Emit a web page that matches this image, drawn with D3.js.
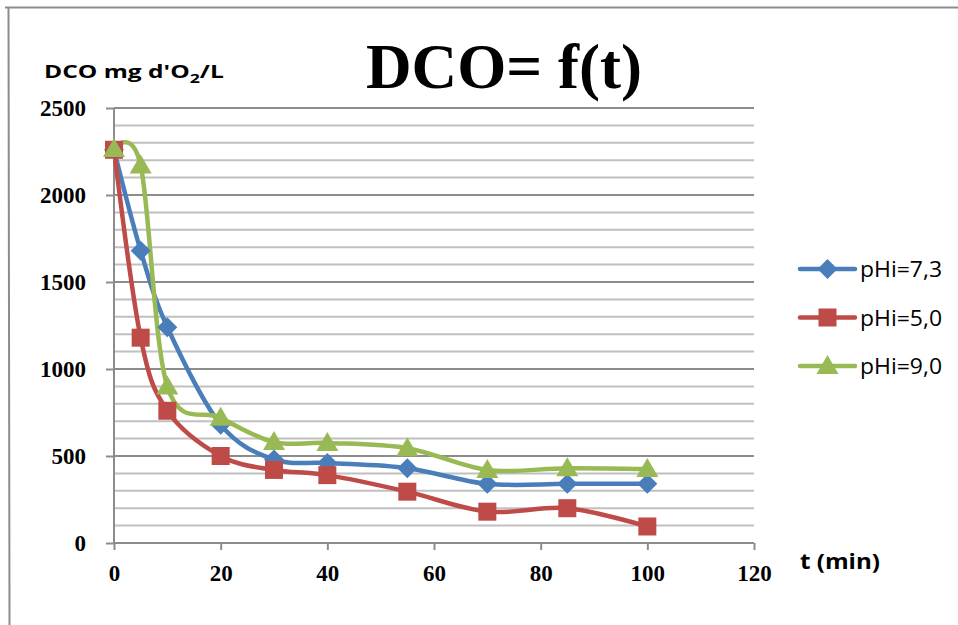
<!DOCTYPE html>
<html>
  <head>
    <meta charset="utf-8">
    <title>DCO = f(t)</title>
    <script src="https://cdn.jsdelivr.net/npm/d3@7"></script>
    <style>
      body { margin: 0; background: #fff; }
    </style>
  </head>
  <body>
    <svg width="958" height="625" id="mainsvg"></svg>
    <script>
      // data
      const times = [0, 5, 10, 20, 30, 40, 55, 70, 85, 100];
      const dco73 = [2260, 1680, 1240, 680, 480, 460, 430, 340, 340, 340];
      const dco50 = [2260, 1180, 760, 500, 420, 390, 295, 180, 200, 95];
      const dco90 = [2265, 2170, 900, 720, 580, 575, 545, 420, 430, 425];
      const seriesNames = ["pHi=7,3", "pHi=5,0", "pHi=9,0"];
      const xTicks = [0, 20, 40, 60, 80, 100, 120];
      const yTicks = [0, 500, 1000, 1500, 2000, 2500];

      const colors = ["#4a7ebb", "#be4b48", "#98b954"];
      const shapes = ["diamond", "square", "triangle"];
      const series = [dco73, dco50, dco90].map((vals, i) => ({
        name: seriesNames[i],
        color: colors[i],
        shape: shapes[i],
        points: times.map((t, j) => ({ t: t, v: vals[j] })),
      }));

      const svg = d3.select("#mainsvg");
      const margin = { top: 108, left: 114 };
      const innerWidth = 640;
      const innerHeight = 435;

      // outer frame of the chart
      svg.append("path")
        .attr("d", "M5,7.5 L958,7.5 M8.5,7.5 L9.5,625")
        .attr("stroke", "#8c8c8c")
        .attr("stroke-width", 2)
        .attr("fill", "none");

      const g = svg.append("g")
        .attr("transform", `translate(${margin.left}, ${margin.top})`);

      const xScale = d3.scaleLinear().domain([0, 120]).range([0, innerWidth]);
      const yScale = d3.scaleLinear().domain([0, 2500]).range([innerHeight, 0]);

      // minor gridlines every 100
      g.append("g")
        .selectAll("line")
        .data(d3.range(100, 2500, 100).filter((d) => d % 500 !== 0))
        .join("line")
        .attr("x1", 0)
        .attr("x2", innerWidth)
        .attr("y1", (d) => yScale(d))
        .attr("y2", (d) => yScale(d))
        .attr("stroke", "#c0c0c0")
        .attr("stroke-width", 2);

      // major gridlines
      g.append("g")
        .selectAll("line")
        .data(yTicks.filter((d) => d > 0))
        .join("line")
        .attr("x1", 0)
        .attr("x2", innerWidth)
        .attr("y1", (d) => yScale(d))
        .attr("y2", (d) => yScale(d))
        .attr("stroke", "#8c8c8c")
        .attr("stroke-width", 2);

      const yAxis = d3.axisLeft(yScale).tickValues(yTicks).tickFormat(d3.format("d"))
        .tickSize(8).tickPadding(20);
      const xAxis = d3.axisBottom(xScale).tickValues(xTicks).tickFormat(d3.format("d"))
        .tickSize(7).tickPadding(15);

      const yAxisGroup = g.append("g").call(yAxis);
      const xAxisGroup = g.append("g")
        .attr("transform", `translate(0, ${innerHeight})`)
        .call(xAxis);

      [yAxisGroup, xAxisGroup].forEach((ax) => {
        ax.select(".domain").attr("stroke", "#8c8c8c").attr("stroke-width", 2);
        ax.selectAll(".tick line").attr("stroke", "#8c8c8c").attr("stroke-width", 2);
        ax.selectAll(".tick text")
          .attr("font-family", "'Liberation Serif', 'Times New Roman', serif")
          .attr("font-weight", "bold")
          .attr("font-size", "23px")
          .attr("fill", "#000");
      });
      yAxisGroup.select(".domain").attr("d", `M0,0 V${innerHeight}`);
      xAxisGroup.select(".domain").attr("d", `M0,0 H${innerWidth}`);

      // smoothed lines like the spreadsheet
      const line = d3.line()
        .x((d) => xScale(d.t))
        .y((d) => yScale(d.v))
        .curve(d3.curveCatmullRom.alpha(0));

      function marker(sel, shape, color) {
        if (shape === "diamond") {
          sel.append("path").attr("d", "M0,-10 L10,0 L0,10 L-10,0 Z").attr("fill", color);
        } else if (shape === "square") {
          sel.append("rect").attr("x", -9).attr("y", -9).attr("width", 18).attr("height", 18).attr("fill", color);
        } else {
          sel.append("path").attr("d", "M0,-11 L11,8 L-11,8 Z").attr("fill", color);
        }
      }

      series.forEach((s) => {
        g.append("path")
          .datum(s.points)
          .attr("d", line)
          .attr("fill", "none")
          .attr("stroke", s.color)
          .attr("stroke-width", 4.5)
          .attr("stroke-linejoin", "round");
      });
      series.forEach((s) => {
        s.points.forEach((p) => {
          const m = g.append("g")
            .attr("transform", `translate(${xScale(p.t)}, ${yScale(p.v)})`);
          marker(m, s.shape, s.color);
        });
      });

      // legend
      const legend = svg.append("g").attr("transform", "translate(800, 269)");
      series.forEach((s, i) => {
        const row = legend.append("g").attr("transform", `translate(0, ${i * 48.5})`);
        row.append("line")
          .attr("x1", 0).attr("x2", 55)
          .attr("stroke", s.color)
          .attr("stroke-width", 4.5)
          .attr("stroke-linecap", "round");
        const m = row.append("g").attr("transform", "translate(27.5, 0)");
        marker(m, s.shape, s.color);
        row.append("text")
          .text(s.name)
          .attr("x", 60)
          .attr("y", 8)
          .attr("font-family", "'Open Sans', sans-serif")
          .attr("font-size", "21px")
          .attr("textLength", 82)
          .attr("lengthAdjust", "spacingAndGlyphs")
          .attr("fill", "#000");
      });

      // titles
      svg.append("text")
        .text("DCO= f(t)")
        .attr("x", 366)
        .attr("y", 88)
        .attr("font-family", "'Liberation Serif', 'Times New Roman', serif")
        .attr("font-weight", "bold")
        .attr("font-size", "63px")
        .attr("textLength", 276)
        .attr("lengthAdjust", "spacingAndGlyphs")
        .attr("fill", "#000");

      const yLabel = svg.append("text")
        .attr("x", 44)
        .attr("y", 78)
        .attr("font-family", "'Open Sans', sans-serif")
        .attr("font-weight", "bold")
        .attr("font-size", "18px")
        .attr("fill", "#000");
      yLabel.append("tspan").text("DCO mg d'O");
      yLabel.append("tspan").text("2").attr("dy", 5).attr("font-size", "13px");
      yLabel.append("tspan").text("/L").attr("dy", -5);
      // stretch to the width seen in the reference
      const yLabelWidth = yLabel.node().getComputedTextLength();
      yLabel.attr("transform", `translate(44,0) scale(${180 / yLabelWidth},1) translate(-44,0)`);

      svg.append("text")
        .text("t (min)")
        .attr("x", 800)
        .attr("y", 569)
        .attr("font-family", "'Open Sans', sans-serif")
        .attr("font-weight", "bold")
        .attr("font-size", "22px")
        .attr("textLength", 80)
        .attr("lengthAdjust", "spacingAndGlyphs")
        .attr("fill", "#000");
    </script>
  </body>
</html>
